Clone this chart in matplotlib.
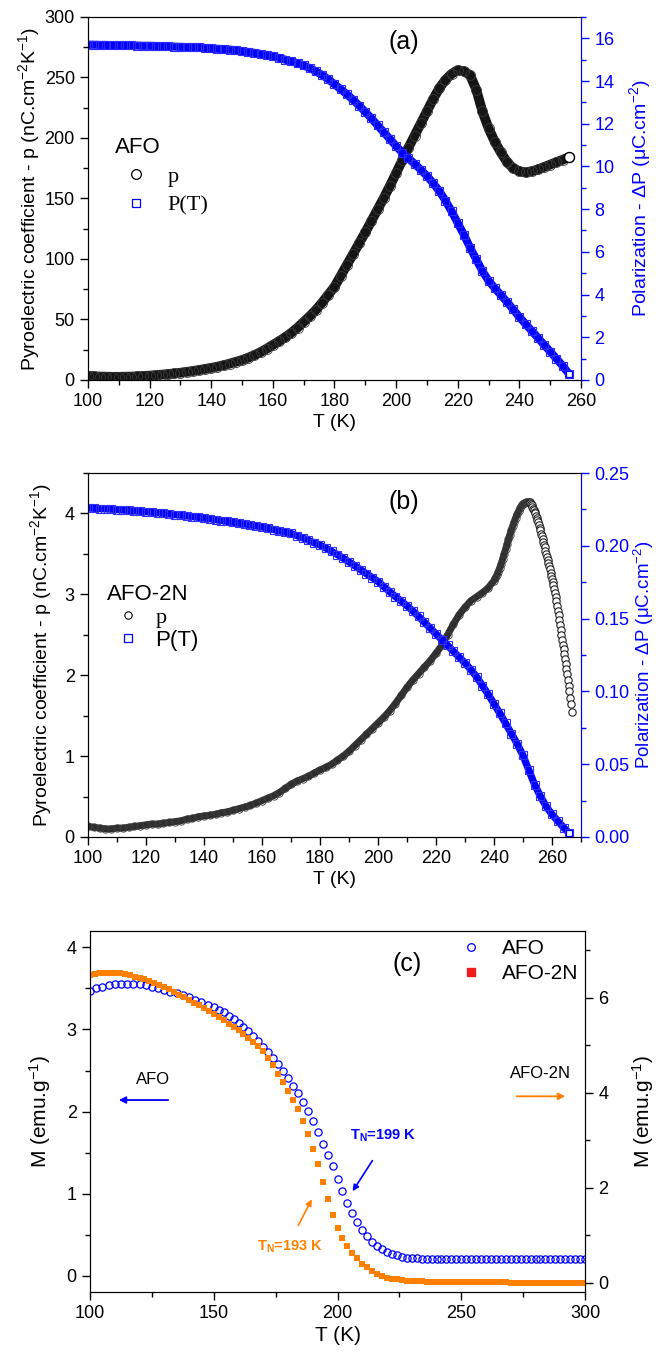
import numpy as np
import matplotlib
matplotlib.use("Agg")
import matplotlib.pyplot as plt
from matplotlib.ticker import MultipleLocator, FormatStrFormatter
from matplotlib.lines import Line2D

plt.rcParams['font.family'] = ['Liberation Sans', 'DejaVu Sans']
plt.rcParams['mathtext.fontset'] = 'custom'
plt.rcParams['mathtext.rm'] = 'Liberation Sans'
plt.rcParams['mathtext.it'] = 'Liberation Sans:italic'
plt.rcParams['mathtext.bf'] = 'Liberation Sans:bold'

BLUE = '#0000ff'
ORANGE = '#ff8000'
LEG_RED = '#ee1c1c'

# ---------------- panel (a) : AFO ----------------
T_a = np.arange(100, 257, 2)
p_a = [3.5, 3.0, 2.8, 2.7, 2.6, 2.6, 2.7, 2.8, 3.0, 3.3,
       3.6, 4.0, 4.4, 4.9, 5.4, 6.0, 6.7, 7.4, 8.2, 9.1,
       10.0, 11.0, 12.2, 13.5, 15.0, 16.5, 18.4, 20.5, 23.0, 25.8,
       29.0, 32.0, 35.3, 39.0, 43.2, 48.0, 52.8, 58.0, 64.0, 70.5,
       77.0, 86.0, 95.0, 104.0, 113.0, 122.0, 131.5, 141.0, 150.5, 160.5,
       171.0, 181.5, 192.0, 202.0, 212.0, 222.0, 232.0, 241.0, 248.0, 253.0,
       256.0, 255.0, 252.0, 240.0, 222.0, 208.0, 197.0, 188.0, 180.0, 175.0,
       172.5, 171.5, 172.5, 174.0, 176.0, 178.0, 180.0, 182.0, 184.0]
P_a = [15.70, 15.70, 15.69, 15.69, 15.68, 15.68, 15.67, 15.67, 15.66, 15.65,
       15.65, 15.64, 15.63, 15.62, 15.61, 15.60, 15.59, 15.58, 15.57, 15.55,
       15.53, 15.51, 15.49, 15.47, 15.44, 15.40, 15.36, 15.32, 15.27, 15.21,
       15.15, 15.08, 15.00, 14.92, 14.83, 14.73, 14.60, 14.45, 14.28, 14.08,
       13.85, 13.62, 13.38, 13.12, 12.85, 12.55, 12.25, 11.92, 11.60, 11.28,
       10.95, 10.65, 10.38, 10.12, 9.85, 9.55, 9.22, 8.85, 8.40, 7.90,
       7.35, 6.80, 6.20, 5.65, 5.10, 4.65, 4.30, 3.98, 3.65, 3.30,
       2.95, 2.62, 2.30, 1.98, 1.65, 1.33, 1.00, 0.67, 0.30]

# ---------------- panel (b) : AFO-2N ----------------
T_b = list(np.arange(100, 241, 2)) + list(np.arange(240.5, 252.1, 0.5)) + \
      list(np.arange(252.25, 266.8, 0.25))
p_b = [0.13, 0.12, 0.11, 0.10, 0.10, 0.11, 0.11, 0.12, 0.13, 0.14,
       0.15, 0.16, 0.16, 0.17, 0.18, 0.19, 0.20, 0.22, 0.23, 0.25,
       0.26, 0.27, 0.28, 0.30, 0.31, 0.33, 0.35, 0.37, 0.39, 0.42,
       0.45, 0.48, 0.51, 0.55, 0.60, 0.65, 0.69, 0.72, 0.75, 0.79,
       0.83, 0.86, 0.90, 0.95, 1.00, 1.06, 1.13, 1.20, 1.27, 1.34,
       1.41, 1.48, 1.56, 1.65, 1.75, 1.85, 1.94, 2.02, 2.10, 2.18,
       2.27, 2.37, 2.50, 2.63, 2.75, 2.84, 2.92, 2.97, 3.02, 3.08,
       3.17,
       3.20, 3.24, 3.28, 3.33, 3.38, 3.44, 3.50, 3.56, 3.62, 3.68,
       3.74, 3.80, 3.85, 3.90, 3.95, 3.99, 4.03, 4.07, 4.10, 4.12,
       4.13, 4.14, 4.14, 4.14,
       4.14, 4.13, 4.12, 4.10, 4.08, 4.06, 4.04, 4.02, 4.00, 3.97,
       3.95, 3.92, 3.89, 3.86, 3.82, 3.79, 3.75, 3.72, 3.69, 3.65,
       3.61, 3.58, 3.54, 3.50, 3.46, 3.43, 3.39, 3.35, 3.31, 3.27,
       3.23, 3.19, 3.15, 3.11, 3.07, 3.02, 2.97, 2.92, 2.86, 2.80,
       2.74, 2.68, 2.62, 2.56, 2.50, 2.44, 2.38, 2.32, 2.26, 2.20,
       2.14, 2.08, 2.01, 1.94, 1.87, 1.80, 1.72, 1.64, 1.55]
T_b_pol = np.arange(100, 267, 2)
P_b = [0.2260, 0.2258, 0.2256, 0.2254, 0.2252, 0.2249, 0.2246, 0.2243, 0.2240, 0.2237,
       0.2234, 0.2231, 0.2227, 0.2223, 0.2219, 0.2215, 0.2211, 0.2206, 0.2201, 0.2196,
       0.2191, 0.2186, 0.2180, 0.2174, 0.2168, 0.2162, 0.2156, 0.2150, 0.2143, 0.2137,
       0.2130, 0.2121, 0.2112, 0.2103, 0.2094, 0.2085, 0.2070, 0.2055, 0.2038, 0.2021,
       0.2005, 0.1985, 0.1962, 0.1940, 0.1915, 0.1890, 0.1863, 0.1836, 0.1809, 0.1782,
       0.1755, 0.1720, 0.1685, 0.1652, 0.1620, 0.1588, 0.1553, 0.1515, 0.1475, 0.1435,
       0.1395, 0.1355, 0.1316, 0.1275, 0.1235, 0.1195, 0.1150, 0.1100, 0.1040, 0.0980,
       0.0915, 0.0850, 0.0780, 0.0710, 0.0640, 0.0560, 0.0460, 0.0360, 0.0280, 0.0210,
       0.0155, 0.0110, 0.0065, 0.0025]

# ---------------- panel (c) : M(T) ----------------
T_afo = list(np.arange(100, 150.1, 2.5)) + list(np.arange(152, 301, 2))
M_afo = [3.47, 3.50, 3.52, 3.54, 3.55, 3.56, 3.56, 3.56, 3.55, 3.54,
         3.52, 3.50, 3.48, 3.46, 3.44, 3.42, 3.39, 3.36, 3.33, 3.30,
         3.27,
         3.24, 3.21, 3.17, 3.13, 3.08, 3.03, 2.98, 2.92, 2.86, 2.79,
         2.72, 2.65, 2.58, 2.50, 2.41, 2.31, 2.22, 2.12, 2.01, 1.89,
         1.75, 1.61, 1.47, 1.34, 1.18, 1.03, 0.89, 0.76, 0.65, 0.56,
         0.48, 0.41, 0.36, 0.32, 0.29, 0.26, 0.245, 0.23, 0.22, 0.215,
         0.21, 0.205, 0.205, 0.20, 0.20, 0.20, 0.20, 0.20, 0.20, 0.20,
         0.20, 0.20, 0.20, 0.20, 0.20, 0.20, 0.20, 0.20, 0.20, 0.20,
         0.20, 0.20, 0.20, 0.20, 0.20, 0.20, 0.20, 0.20, 0.20, 0.20,
         0.20, 0.20, 0.20, 0.20, 0.20]
T_2n = np.arange(100, 301, 2)
M_2n = [6.47, 6.50, 6.51, 6.52, 6.52, 6.52, 6.51, 6.49, 6.47, 6.44,
        6.41, 6.38, 6.34, 6.30, 6.26, 6.22, 6.17, 6.12, 6.06, 6.01,
        5.95, 5.89, 5.84, 5.78, 5.72, 5.66, 5.59, 5.52, 5.45, 5.38,
        5.31, 5.23, 5.15, 5.06, 4.97, 4.87, 4.73, 4.57, 4.40, 4.22,
        4.03, 3.85, 3.65, 3.40, 3.12, 2.82, 2.50, 2.12, 1.76, 1.42,
        1.15, 0.94, 0.77, 0.63, 0.51, 0.40, 0.32, 0.245, 0.185, 0.14,
        0.105, 0.08, 0.065, 0.05, 0.04, 0.035, 0.03, 0.025, 0.02, 0.02,
        0.02, 0.015, 0.015, 0.015, 0.01, 0.01, 0.01, 0.01, 0.01, 0.01,
        0.005, 0.005, 0.005, 0.005, 0.005, 0.0, 0.0, 0.0, 0.0, 0.0,
        0.0, 0.0, 0.0, 0.0, 0.0, 0.0, 0.0, 0.0, 0.0, 0.0,
        0.0]

TICK_FS = 13
LABEL_FS = 14
PYRO_LABEL = 'Pyroelectric coefficient - p (nC.cm$^{-2}$K$^{-1}$)'
POL_LABEL = 'Polarization - ΔP (μC.cm$^{-2}$)'


def style_axis(ax):
    ax.tick_params(which='both', direction='out', labelsize=TICK_FS, width=1.0)
    ax.tick_params(which='major', length=6)
    ax.tick_params(which='minor', length=3.5)


fig = plt.figure(figsize=(6.6, 13.57), dpi=100)

# ---------- (a) ----------
axa = fig.add_axes([0.1333, 0.7200, 0.7470, 0.2675])
axa2 = axa.twinx()
# dense measurement: markers overlap into a thick band
axa.plot(T_a, p_a, '-', lw=7.0, color='#151515', solid_capstyle='round')
la, = axa.plot(T_a, p_a, 'o', ms=7.2, mfc='none', mec='#3a3a3a', mew=0.6, label='p')
axa.plot(T_a[-1:], p_a[-1:], 'o', ms=7.2, mfc='white', mec='black', mew=1.0)
axa2.plot(T_a, P_a, '-', lw=5.8, color=BLUE, solid_capstyle='butt')
lb, = axa2.plot(T_a, P_a, 's', ms=5.8, mfc='none', mec='#2a2aff', mew=0.8, label='P(T)')
axa2.plot(T_a[-1:], P_a[-1:], 's', ms=5.0, mfc='white', mec=BLUE, mew=0.9)
axa.set_xlim(100, 260)
axa.set_ylim(0, 300)
axa2.set_ylim(0, 17)
axa.xaxis.set_major_locator(MultipleLocator(20))
axa.xaxis.set_minor_locator(MultipleLocator(10))
axa.yaxis.set_major_locator(MultipleLocator(50))
axa.yaxis.set_minor_locator(MultipleLocator(25))
axa2.yaxis.set_major_locator(MultipleLocator(2))
axa2.yaxis.set_minor_locator(MultipleLocator(1))
style_axis(axa)
style_axis(axa2)
axa2.tick_params(axis='y', which='both', colors=BLUE)
axa2.spines['right'].set_color(BLUE)
axa.set_xlabel('T (K)', fontsize=LABEL_FS, labelpad=3)
axa.set_ylabel(PYRO_LABEL, fontsize=LABEL_FS, labelpad=2)
axa2.set_ylabel(POL_LABEL, fontsize=LABEL_FS, color=BLUE, labelpad=9)
axa.text(0.64, 0.93, '(a)', transform=axa.transAxes, fontsize=18, ha='center', va='center')
hpa = Line2D([], [], ls='none', marker='o', ms=7.0, mfc='none', mec='black', mew=0.9)
hpb = Line2D([], [], ls='none', marker='s', ms=5.5, mfc='none', mec=BLUE, mew=0.9)
leg = axa.legend(handles=[hpa, hpb], labels=['p', 'P(T)'], loc='upper left',
                 bbox_to_anchor=(0.055, 0.67), frameon=False,
                 title='AFO', title_fontsize=16, fontsize=16, handletextpad=0.45,
                 borderaxespad=0, borderpad=0, labelspacing=0.38, handlelength=1.9)
leg._legend_box.align = 'left'
leg._legend_box.sep = 6
for t in leg.get_texts():
    t.set_family('Liberation Serif')

# ---------- (b) ----------
axb = fig.add_axes([0.1333, 0.3832, 0.7470, 0.2682])
axb2 = axb.twinx()
n_dense = 95   # points up to 252 K form a continuous band
axb.plot(T_b[:n_dense], p_b[:n_dense], '-', lw=5.0, color='#2e2e2e', solid_capstyle='round')
lc, = axb.plot(T_b[:n_dense], p_b[:n_dense], 'o', ms=5.3, mfc='none', mec='#3c3c3c', mew=0.6, label='p')
axb.plot(T_b[n_dense:], p_b[n_dense:], 'o', ms=5.3, mfc='white', mec='#222222', mew=0.8)
axb2.plot(T_b_pol, P_b, '-', lw=5.2, color=BLUE, solid_capstyle='butt')
ld, = axb2.plot(T_b_pol, P_b, 's', ms=5.2, mfc='none', mec='#3030ff', mew=0.8, label='P(T)')
axb2.plot(T_b_pol[-1:], P_b[-1:], 's', ms=4.8, mfc='white', mec=BLUE, mew=0.9)
axb.set_xlim(100, 270)
axb.set_ylim(0, 4.5)
axb2.set_ylim(0, 0.25)
axb.xaxis.set_major_locator(MultipleLocator(20))
axb.xaxis.set_minor_locator(MultipleLocator(10))
axb.yaxis.set_major_locator(MultipleLocator(1))
axb.yaxis.set_minor_locator(MultipleLocator(0.5))
axb2.yaxis.set_major_locator(MultipleLocator(0.05))
axb2.yaxis.set_minor_locator(MultipleLocator(0.025))
axb2.yaxis.set_major_formatter(FormatStrFormatter('%.2f'))
style_axis(axb)
style_axis(axb2)
axb2.tick_params(axis='y', which='both', colors=BLUE)
axb2.spines['right'].set_color(BLUE)
axb.set_xlabel('T (K)', fontsize=LABEL_FS, labelpad=3)
axb.set_ylabel(PYRO_LABEL, fontsize=LABEL_FS, labelpad=8)
axb2.set_ylabel(POL_LABEL, fontsize=LABEL_FS - 0.5, color=BLUE, labelpad=2)
axb.text(0.64, 0.92, '(b)', transform=axb.transAxes, fontsize=18, ha='center', va='center')
hpc = Line2D([], [], ls='none', marker='o', ms=5.3, mfc='none', mec='black', mew=0.8)
hpd = Line2D([], [], ls='none', marker='s', ms=5.2, mfc='none', mec=BLUE, mew=0.9)
legb = axb.legend(handles=[hpc, hpd], labels=['p', 'P(T)'], loc='upper left',
                  bbox_to_anchor=(0.038, 0.695), frameon=False,
                  title='AFO-2N', title_fontsize=16, fontsize=16, handletextpad=0.3,
                  borderaxespad=0, borderpad=0, labelspacing=0.1, handlelength=1.9)
legb._legend_box.align = 'left'
legb.get_texts()[0].set_family('Liberation Serif')

# ---------- (c) ----------
axc = fig.add_axes([0.1364, 0.0479, 0.7500, 0.2660])
axc2 = axc.twinx()
le, = axc.plot(T_afo, M_afo, 'o', ms=5.2, mfc='none', mec=BLUE, mew=0.9, label='AFO')
lf, = axc2.plot(T_2n, M_2n, 's', ms=4.5, mfc=ORANGE, mec=ORANGE, mew=0, label='AFO-2N')
axc.set_xlim(100, 300)
axc.set_ylim(-0.2, 4.2)
axc2.set_ylim(-0.2, 7.4)
axc.xaxis.set_major_locator(MultipleLocator(50))
axc.xaxis.set_minor_locator(MultipleLocator(25))
axc.yaxis.set_major_locator(MultipleLocator(1))
axc.yaxis.set_minor_locator(MultipleLocator(0.5))
axc2.yaxis.set_major_locator(MultipleLocator(2))
axc2.yaxis.set_minor_locator(MultipleLocator(1))
style_axis(axc)
style_axis(axc2)
axc.set_xlabel('T (K)', fontsize=LABEL_FS + 1, labelpad=3)
axc.set_ylabel('M (emu.g$^{-1}$)', fontsize=LABEL_FS + 1, labelpad=10)
axc2.set_ylabel('M (emu.g$^{-1}$)', fontsize=LABEL_FS + 1, labelpad=16)
axc.text(0.64, 0.91, '(c)', transform=axc.transAxes, fontsize=18, ha='center', va='center')

# legend with a red square for AFO-2N, as in the original
hf = Line2D([], [], ls='none', marker='s', ms=5.5, mfc=LEG_RED, mec=LEG_RED)
hl = Line2D([], [], ls='none', marker='o', ms=5.5, mfc='none', mec=BLUE, mew=0.9)
legc = axc.legend(handles=[hl, hf], labels=['AFO', 'AFO-2N'], loc='upper right',
                  bbox_to_anchor=(0.995, 0.99), frameon=False, fontsize=15,
                  handletextpad=1.0, labelspacing=0.3, borderaxespad=0, borderpad=0.2,
                  handlelength=1.0)

axc.text(125.5, 2.39, 'AFO', fontsize=12, ha='center', va='center')
axc.annotate('', xy=(110.5, 2.14), xytext=(132.7, 2.14),
             arrowprops=dict(arrowstyle='-|>', color=BLUE, lw=1.3, mutation_scale=10))
axc2.text(281.8, 4.39, 'AFO-2N', fontsize=12, ha='center', va='center')
axc2.annotate('', xy=(293.1, 3.92), xytext=(271.3, 3.92),
              arrowprops=dict(arrowstyle='-|>', color=ORANGE, lw=1.3, mutation_scale=10))
axc.text(218.4, 1.70, r'$\mathbf{T_N}$=199 K', fontsize=10.5, color=BLUE, fontweight='bold',
         ha='center', va='center')
axc.annotate('', xy=(205.5, 1.00), xytext=(214.7, 1.43),
             arrowprops=dict(arrowstyle='-|>', color=BLUE, lw=1.2, mutation_scale=9))
axc.text(180.8, 0.35, r'$\mathbf{T_N}$=193 K', fontsize=10.5, color=ORANGE, fontweight='bold',
         ha='center', va='center')
axc.annotate('', xy=(190.1, 0.96), xytext=(183.6, 0.58),
             arrowprops=dict(arrowstyle='-|>', color=ORANGE, lw=1.2, mutation_scale=9))

fig.savefig('out.png', dpi=100)
